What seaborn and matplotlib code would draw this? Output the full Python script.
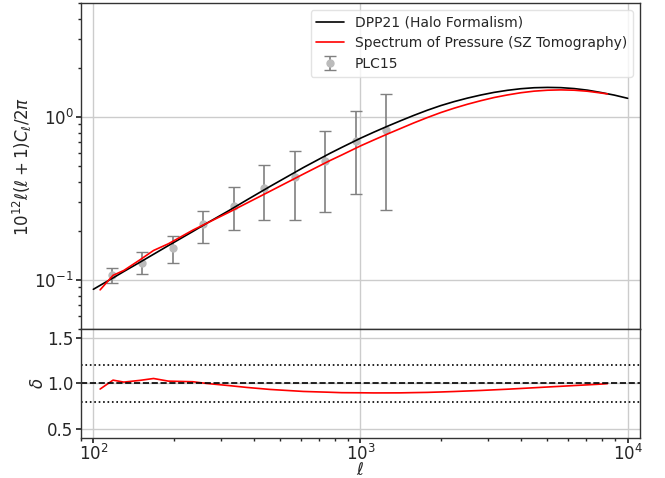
import numpy as np
import pandas as pd
import matplotlib
matplotlib.use("Agg")
import matplotlib.pyplot as plt
import seaborn as sns

# ---- model curves (shared multipole grid) ----
ell_model = [100, 106, 118.5, 130, 150, 168, 191, 236, 266, 320, 376, 459, 611,
             769, 851, 1000, 1122, 1259, 1413, 1585, 1778, 1995, 2239, 2512,
             2818, 3162, 3548, 3981, 4467, 5012, 5623, 6310, 7079, 7943, 8400,
             8913, 10000]
dpp21 = [0.0877, 0.0927, 0.103, 0.1127, 0.129, 0.1438, 0.1626, 0.1986, 0.223,
         0.265, 0.310, 0.375, 0.489, 0.598, 0.650, 0.740, 0.806, 0.875, 0.947,
         1.022, 1.098, 1.172, 1.240, 1.303, 1.361, 1.413, 1.455, 1.488, 1.509,
         1.516, 1.511, 1.491, 1.458, 1.411, 1.386, 1.36, 1.30]
sz_tomo = [np.nan, 0.0870, 0.1068, 0.1144, 0.1335, 0.1517, 0.1668, 0.2024,
           0.223, 0.259, 0.2964, 0.3503, 0.446, 0.540, 0.584, 0.664, 0.722,
           0.784, 0.849, 0.919, 0.990, 1.062, 1.130, 1.195, 1.256, 1.314,
           1.363, 1.406, 1.438, 1.457, 1.464, 1.457, 1.436, 1.401, 1.383,
           np.nan, np.nan]

# ---- PLC15 data points ----
ell_plc = [117, 152.5, 198, 257.5, 335.5, 436.5, 567.5, 738, 959.5, 1247.5]
y_plc = [0.107, 0.128, 0.158, 0.220, 0.286, 0.368, 0.430, 0.539, 0.716, 0.832]
y_plc_hi = [0.119, 0.148, 0.187, 0.266, 0.370, 0.505, 0.621, 0.817, 1.093, 1.378]
y_plc_lo = [0.096, 0.109, 0.128, 0.169, 0.203, 0.232, 0.232, 0.262, 0.337, 0.270]

sns.set_theme(style="ticks")
plt.rcParams['font.family'] = ['DejaVu Sans']
plt.rcParams['mathtext.fontset'] = 'dejavusans'

fig = plt.figure(figsize=(6.65, 4.78), dpi=100)
gs = fig.add_gridspec(2, 1, height_ratios=[3, 1], hspace=0,
                      left=0.122, right=0.962, top=0.994, bottom=0.084)
ax = fig.add_subplot(gs[0])
axr = fig.add_subplot(gs[1], sharex=ax)

df = pd.DataFrame({"ell": ell_model, "dpp": dpp21, "sz": sz_tomo})
df["delta"] = df["sz"] / df["dpp"]

sns.lineplot(data=df, x="ell", y="dpp", ax=ax, color="black", lw=1.2,
             label="DPP21 (Halo Formalism)", estimator=None, sort=False)
sns.lineplot(data=df.dropna(), x="ell", y="sz", ax=ax, color="red", lw=1.2,
             label="Spectrum of Pressure (SZ Tomography)", estimator=None, sort=False)

yp = np.array(y_plc)
yerr = [yp - np.array(y_plc_lo), np.array(y_plc_hi) - yp]
ax.errorbar(ell_plc, y_plc, yerr=yerr, fmt='o', color='#bbbbbb', ms=5,
            ecolor='gray', elinewidth=1.2, capsize=4, capthick=1.0,
            label="PLC15", zorder=1)

ax.set_xscale('log')
ax.set_yscale('log')
ax.set_xlim(90, 11100)
ax.set_ylim(0.05, 5.0)
ax.set_ylabel(r'$10^{12}\ell(\ell+1)C_\ell/2\pi$', fontsize=12, labelpad=0)
ax.set_xlabel('')
ax.grid(True, which='major', color='#cccccc', lw=1.0)
ax.tick_params(axis='x', which='both', length=0, labelbottom=False)
ax.tick_params(axis='y', which='major', labelsize=12, length=3.5, pad=2)
ax.tick_params(axis='y', which='minor', length=2)
leg = ax.legend(loc='upper right', fontsize=10, frameon=True, framealpha=0.8,
                edgecolor='#dddddd', fancybox=True)

sns.lineplot(data=df.dropna(), x="ell", y="delta", ax=axr, color="red", lw=1.2,
             estimator=None, sort=False)
axr.axhline(1.0, color='black', ls='--', lw=1.2)
axr.axhline(1.2, color='black', ls=':', lw=1.2)
axr.axhline(0.8, color='black', ls=':', lw=1.2)
axr.set_ylim(0.4, 1.6)
axr.set_yticks([0.5, 1.0, 1.5])
axr.set_ylabel(r'$\delta$', fontsize=12, labelpad=0)
axr.set_xlabel(r'$\ell$', fontsize=12, labelpad=-2.5)
axr.grid(True, which='major', color='#cccccc', lw=1.0)
axr.tick_params(axis='y', which='major', labelsize=12, length=3.5, pad=2)
axr.tick_params(axis='x', which='major', labelsize=12, length=3.5, pad=1)
axr.tick_params(axis='x', which='minor', length=2)

for a in (ax, axr):
    for s in a.spines.values():
        s.set_color('#333333')
        s.set_linewidth(1.0)

fig.savefig("out.png", dpi=100)
